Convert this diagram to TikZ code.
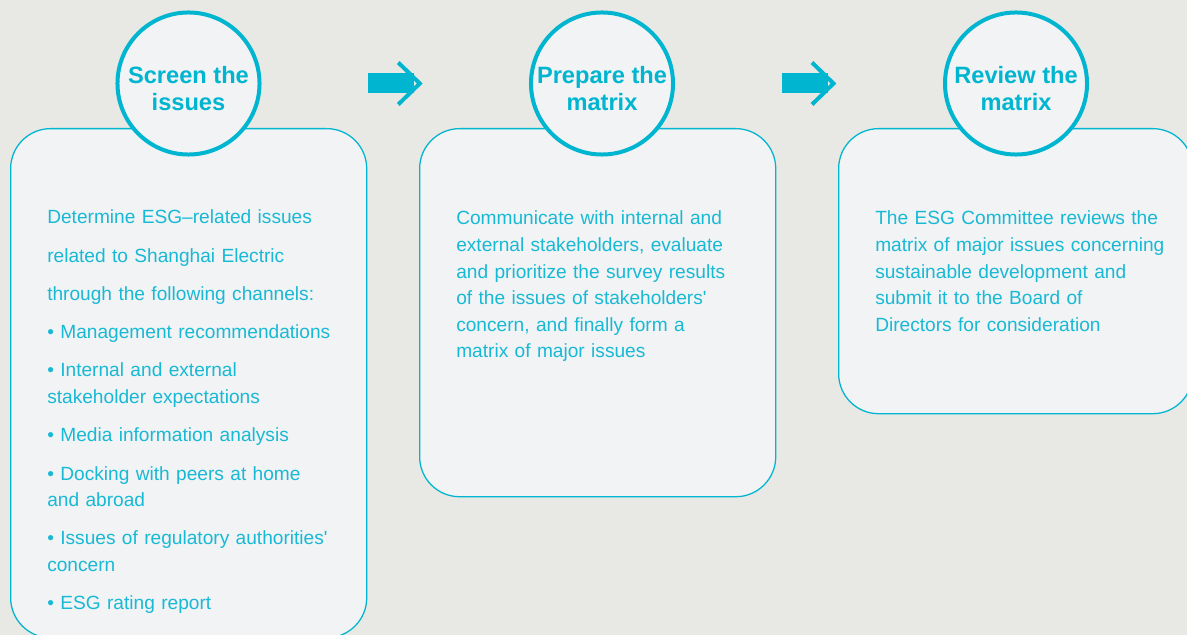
\documentclass[tikz,border=0pt]{standalone}
\usepackage{fontspec}
\setmainfont{Liberation Sans}[Ligatures=TeXOff]
\usetikzlibrary{calc}
\definecolor{esgcyan}{RGB}{0,181,208}
\definecolor{esgtext}{RGB}{24,185,213}
\definecolor{esgback}{RGB}{232,232,228}
\definecolor{esgpanel}{RGB}{241,243,245}
\newcommand{\titlelift}{\rule{0pt}{19pt}}

\begin{document}
\begin{tikzpicture}[
    x=0.025cm, y=-0.025cm,
    panel/.style={rectangle, draw=esgcyan, line width=0.9pt, fill=esgpanel, rounded corners=1cm, anchor=north west, minimum width=8.9cm},
    stepcircle/.style={circle, draw=esgcyan, line width=0.1cm, fill=esgpanel, minimum size=3.55cm, inner sep=0pt, align=center, text=esgcyan, font=\fontsize{16.8}{19.2}\selectfont\bfseries},
    bodytext/.style={anchor=base west, inner sep=0pt, align=left, text width=8cm, text=esgtext, font=\fontsize{13.6}{18.9}\selectfont},
]

\useasboundingbox (0,0) rectangle (1187,635);
\clip (0,0) rectangle (1187,635);
\fill[esgback] (0,0) rectangle (1187,635);

% panels
\node[panel, minimum height=12.725cm] (screenbox) at (10,128) {};
\node[panel, minimum height=9.2cm] (preparebox) at (419,128) {};
\node[panel, minimum width=8.85cm, minimum height=7.125cm] (reviewbox) at (838,128) {};

% panel texts
\node[bodytext] (screentext) at ($(screenbox.north west)+(37,96)$) {%
Determine ESG–related issues\\[8.3pt]
related to Shanghai Electric\\[8.3pt]
through the following channels:\\[8.3pt]
• Management recommendations\\[8.3pt]
• Internal and external\\
stakeholder expectations\\[8.3pt]
• Media information analysis\\[8.3pt]
• Docking with peers at home\\
and abroad\\[8.3pt]
• Issues of regulatory authorities'\\
concern\\[8.3pt]
• ESG rating report};

\node[bodytext] (preparetext) at ($(preparebox.north west)+(37,97)$) {%
Communicate with internal and\\
external stakeholders, evaluate\\
and prioritize the survey results\\
of the issues of stakeholders'\\
concern, and finally form a\\
matrix of major issues};

\node[bodytext] (reviewtext) at ($(reviewbox.north west)+(37,97)$) {%
The ESG Committee reviews the\\
matrix of major issues concerning\\
sustainable development and\\
submit it to the Board of\\
Directors for consideration};

% step circles
\node[stepcircle] (screen) at (188.5,83.5) {\titlelift Screen the\\issues};
\node[stepcircle] (prepare) at (602,83.5) {\titlelift Prepare the\\matrix};
\node[stepcircle] (review) at (1016,83.5) {\titlelift Review the\\matrix};

% arrows between the steps
\coordinate (arrowA) at ($(screen)!0.5!(prepare)$);
\coordinate (arrowB) at ($(prepare)!0.5!(review)$);
\foreach \a in {arrowA,arrowB} {
  \fill[esgcyan] ($(\a)+(-27,-10)$) rectangle ($(\a)+(19,10)$);
  \draw[esgcyan, line width=0.1cm] ($(\a)+(3,-21)$) -- ($(\a)+(24.5,0)$) -- ($(\a)+(3,21)$);
}

\end{tikzpicture}
\end{document}
